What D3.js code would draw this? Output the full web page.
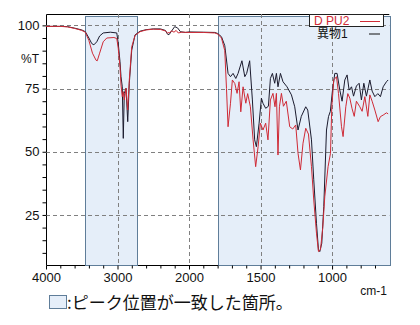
<!DOCTYPE html>
<html>
<head>
<meta charset="utf-8">
<script src="https://cdn.jsdelivr.net/npm/d3@7"></script>
<style>
  body { margin: 0; background: #fff; }
  svg { display: block; font-family: "Liberation Sans", Arial, sans-serif; }
</style>
</head>
<body>
<div id="chart"></div>
<script>
// IR spectra: wavenumber (cm-1), %T
const seriesNames = ["D PU2", "異物1"];

const dpu2 = [
  [4000,99.6],[3800,99.6],[3700,99.4],[3600,98.8],[3500,98],[3450,97.3],[3400,94],[3350,89],
  [3300,86.2],[3283,86],[3250,89],[3200,93.5],[3150,95],[3050,95.2],[3010,94.8],[2990,91],
  [2965,83.6],[2951,76.4],[2933,71.8],[2919,73.8],[2905,70.5],[2881,75.1],[2857,66.5],[2835,78.4],
  [2801,91.5],[2755,96],[2685,97.5],[2600,98.2],[2500,98.5],[2400,98.4],[2330,97.8],[2300,97],
  [2270,97.2],[2240,97.8],[2210,97.3],[2180,98],[2150,97],[2100,97.3],[2000,97.2],[1900,97.2],
  [1820,97],[1800,96.6],[1773,95],[1750,90],[1738,75],[1727,59.9],[1710,69.2],[1697,78.4],
  [1680,77],[1664,73.1],[1650,77.7],[1638,65.8],[1622,75.7],[1603,69.2],[1590,73],[1571,67.8],
  [1552,54.7],[1534,44.1],[1517,52],[1501,61.3],[1483,58.6],[1464,61.3],[1448,54.7],[1431,70.5],
  [1413,73.1],[1399,67.8],[1389,73.1],[1378,48.7],[1368,67.8],[1354,73.1],[1340,68],[1320,70],
  [1296,59.9],[1275,59],[1254,60.6],[1238,49.4],[1221,42.8],[1203,53.4],[1184,59.3],[1165,57],
  [1144,44.1],[1128,30.9],[1109,17.8],[1095,10.5],[1081,11.2],[1065,20],[1051,32.2],[1028,44.1],
  [1011,49.4],[1002,67.8],[988,78.4],[969,79.7],[955,73],[934,59.9],[923,56],[904,67.8],
  [890,73],[876,71.2],[860,67],[845,64],[830,70],[806,67.8],[790,66],[771,71.8],
  [750,64],[736,72.5],[720,70],[701,66.5],[678,61.9],[662,63.9],[643,64.5],[620,65.4],[608,65]
];

const ibutsu1 = [
  [4000,99.6],[3800,99.6],[3700,99.5],[3600,98.9],[3500,98.2],[3450,97.5],[3400,95],[3360,92.8],
  [3330,92.3],[3290,93.5],[3250,95.8],[3200,97],[3100,97.3],[3010,97],[2990,93],[2965,85.6],
  [2951,79.7],[2933,75.7],[2919,55.3],[2905,73.1],[2881,75.1],[2857,61.9],[2835,77.1],[2801,90.2],
  [2755,96.2],[2685,97.7],[2600,98.3],[2500,98.6],[2400,98.6],[2330,98],[2300,96.5],[2280,96.3],
  [2250,97.5],[2200,99.5],[2160,99],[2120,97.5],[2050,97.2],[2000,97.4],[1900,97.3],[1820,97.2],
  [1800,96.8],[1773,95.5],[1750,92],[1738,86.3],[1727,81],[1710,79.7],[1692,81],[1673,79],
  [1657,81],[1630,86],[1610,79.7],[1597,81],[1576,86],[1557,70.5],[1541,54.7],[1529,52],
  [1510,61.3],[1494,71.2],[1483,69.2],[1464,67.2],[1445,68],[1431,79],[1417,81],[1401,77.1],
  [1389,81],[1378,75.7],[1361,81],[1343,77.7],[1315,75.7],[1284,72.5],[1261,67.8],[1238,58.6],
  [1215,64],[1184,67.8],[1170,66.5],[1144,54.7],[1128,38.9],[1109,21.7],[1095,11.2],[1086,10.5],
  [1072,13.8],[1058,28.3],[1039,58.6],[1025,63.9],[1012,66],[997,74.4],[981,81],[965,81],
  [946,74.4],[930,70],[911,78.4],[895,80.4],[881,74.4],[864,75.7],[850,72],[830,76],
  [811,77.1],[795,70.5],[778,77.1],[760,72],[736,78.4],[720,74],[701,71.8],[680,73],
  [662,71.8],[643,75.7],[620,77.7],[608,78.4]
];

// regions where peak positions agree
const matchRegions = [[3450, 2740], [1800, 600]];

const xTickLabels = [4000, 3000, 2000, 1500, 1000];
const xMinorTicks = [3800, 3600, 3400, 3200, 2800, 2600, 2400, 2200,
  1900, 1800, 1700, 1600, 1400, 1300, 1200, 1100, 900, 800, 700];
const yTickLabels = [25, 50, 75, 100];
const yMinorTicks = [10, 15, 20, 30, 35, 40, 45, 55, 60, 65, 70, 80, 85, 90, 95];

const W = 420, H = 325;
const m = { left: 46, right: 389.3, top: 14, bottom: 265 };

const svg = d3.select("#chart").append("svg")
  .attr("width", W).attr("height", H);

// piecewise scale: 2x expansion below 2000 cm-1
const x = d3.scaleLinear().domain([4000, 2000, 600]).range([m.left, 189, m.right]);
const y = d3.scaleLinear().domain([5.2, 104.5]).range([m.bottom, m.top]);

// frame
svg.append("path")
  .attr("d", `M${m.right},${m.top + 0.5}H${m.left + 0.5}V${m.bottom + 0.5}H${m.right}`)
  .attr("fill", "none").attr("stroke", "#000").attr("stroke-width", 1);

// shaded regions
const regTop = y(103.7);
svg.selectAll("rect.region")
  .data(matchRegions)
  .enter().append("rect")
  .attr("class", "region")
  .attr("x", d => Math.round(x(d[0])) + 0.5)
  .attr("y", Math.round(regTop) + 0.5)
  .attr("width", d => Math.round(x(d[1])) - Math.round(x(d[0])) + 1)
  .attr("height", m.bottom - Math.round(regTop))
  .attr("fill", "#e5eef9")
  .attr("stroke", "#5f7d99")
  .attr("stroke-width", 1);

// grid
const grid = svg.append("g").attr("stroke", "#808080").attr("stroke-dasharray", "4,3");
grid.selectAll("line.gy").data(yTickLabels).enter().append("line")
  .attr("x1", m.left).attr("x2", m.right)
  .attr("y1", d => Math.round(y(d)) + 0.5).attr("y2", d => Math.round(y(d)) + 0.5);
grid.selectAll("line.gx").data(xTickLabels.slice(1)).enter().append("line")
  .attr("x1", d => Math.round(x(d)) + 0.5).attr("x2", d => Math.round(x(d)) + 0.5)
  .attr("y1", m.top).attr("y2", m.bottom);

// y axis
const yAxis = svg.append("g")
  .attr("transform", `translate(${m.left + 0.5},0)`)
  .call(d3.axisLeft(y).tickValues(yTickLabels).tickSize(4).tickPadding(3));
yAxis.select(".domain").remove();
yAxis.selectAll("text").attr("font-size", 13).attr("fill", "#111")
  .attr("font-family", "'Liberation Sans', Arial, sans-serif");
svg.append("g").attr("transform", `translate(${m.left + 0.5},0)`)
  .call(d3.axisLeft(y).tickValues(yMinorTicks).tickSize(4).tickFormat(""))
  .select(".domain").remove();

// x axis
const xAxis = svg.append("g")
  .attr("transform", `translate(0,${m.bottom + 0.5})`)
  .call(d3.axisBottom(x).tickValues(xTickLabels).tickSize(4).tickPadding(3).tickFormat(d3.format("d")));
xAxis.select(".domain").remove();
xAxis.selectAll("text").attr("font-size", 13).attr("fill", "#111")
  .attr("font-family", "'Liberation Sans', Arial, sans-serif");
svg.append("g").attr("transform", `translate(0,${m.bottom + 0.5})`)
  .call(d3.axisBottom(x).tickValues(xMinorTicks).tickSize(3).tickFormat(""))
  .select(".domain").remove();

// spectra
const line = d3.line().x(d => x(d[0])).y(d => y(d[1]));
svg.append("path").datum(ibutsu1)
  .attr("fill", "none").attr("stroke", "#1b1b2e").attr("stroke-width", 1)
  .attr("stroke-linejoin", "round")
  .attr("d", line);
svg.append("path").datum(dpu2)
  .attr("fill", "none").attr("stroke", "#cf2a36").attr("stroke-width", 1)
  .attr("stroke-linejoin", "round")
  .attr("d", line);

// axis titles
svg.append("text").attr("x", 30).attr("y", 63).attr("text-anchor", "middle")
  .attr("font-size", 12).attr("fill", "#111").text("%T");
svg.append("text").attr("x", 387).attr("y", 295).attr("text-anchor", "end")
  .attr("font-size", 12).attr("fill", "#111").text("cm-1");

// legend
svg.append("rect").attr("x", 309.5).attr("y", 14.5).attr("width", 74).attr("height", 12)
  .attr("fill", "#fff").attr("stroke", "#222").attr("stroke-width", 1);
const legendColors = ["#cf2a36", "#111"];
seriesNames.forEach((name, i) => {
  const ly = 25 + i * 12.5;
  svg.append("text").attr("x", i === 0 ? 314 : 317).attr("y", ly)
    .attr("font-size", 12).attr("fill", legendColors[i])
    .attr("font-family", "'Liberation Sans', 'Noto Sans CJK JP', sans-serif")
    .text(name);
  svg.append("line").attr("x1", i === 0 ? 360 : 369).attr("x2", 380)
    .attr("y1", ly - 3.5).attr("y2", ly - 3.5)
    .attr("stroke", legendColors[i]).attr("stroke-width", 1);
});

// bottom note
svg.append("rect").attr("x", 49.5).attr("y", 295.5).attr("width", 17).attr("height", 13)
  .attr("fill", "#e5eef9").attr("stroke", "#5f7d99").attr("stroke-width", 1);
svg.append("text").attr("x", 67).attr("y", 309)
  .attr("font-size", 17).attr("fill", "#111")
  .attr("font-family", "'Noto Sans CJK JP', sans-serif")
  .text(":ピーク位置が一致した箇所。");
</script>
</body>
</html>
